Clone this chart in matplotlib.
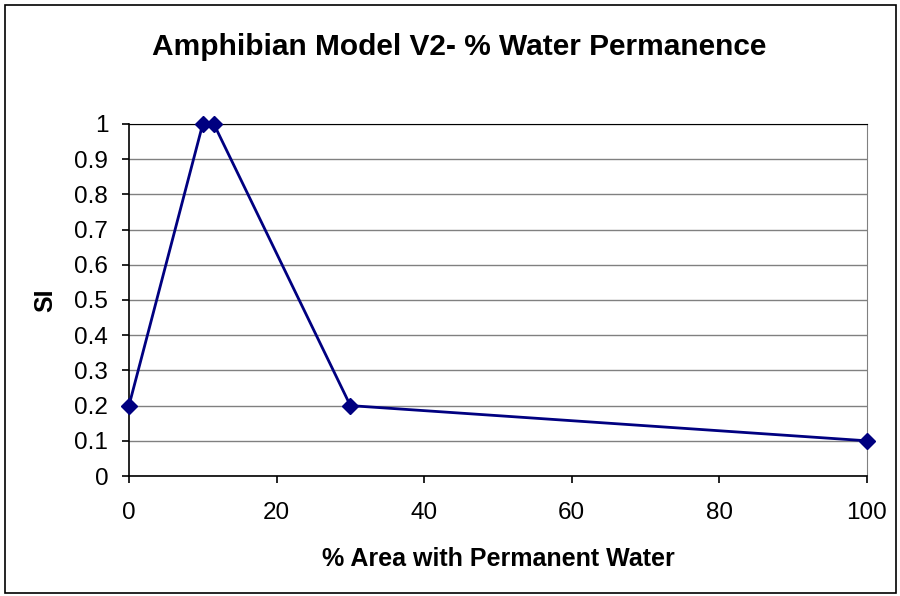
import matplotlib
matplotlib.use("Agg")
import matplotlib.pyplot as plt
from matplotlib.patches import Rectangle

# data
area_pct = [0, 10, 11.5, 30, 100]
si_values = [0.2, 1.0, 1.0, 0.2, 0.1]
x_ticks = [0, 20, 40, 60, 80, 100]
y_ticks = [0, 0.1, 0.2, 0.3, 0.4, 0.5, 0.6, 0.7, 0.8, 0.9, 1]
y_tick_labels = ['0', '0.1', '0.2', '0.3', '0.4', '0.5', '0.6', '0.7', '0.8', '0.9', '1']

plt.rcParams['font.family'] = ['Liberation Sans', 'DejaVu Sans']

fig = plt.figure(figsize=(9, 5.96), dpi=100)
ax = fig.add_axes([0.1433, 0.2013, 0.82, 0.5907])

# outer frame round the whole chart
fig.patches.append(Rectangle((0.006, 0.005), 0.99, 0.987, transform=fig.transFigure,
                             fill=False, edgecolor='black', linewidth=1.2))

ax.plot(area_pct, si_values, color='#000080', linewidth=2, marker='D',
        markersize=8, markerfacecolor='#000080', markeredgecolor='#000080',
        clip_on=False, zorder=3)

ax.set_xlim(0, 100)
ax.set_ylim(0, 1)
ax.set_xticks(x_ticks)
ax.set_yticks(y_ticks)
ax.set_yticklabels(y_tick_labels)
ax.yaxis.grid(True, color='#808080', linewidth=1)
ax.set_axisbelow(True)

for side in ['left', 'bottom']:
    ax.spines[side].set_color('black')
    ax.spines[side].set_linewidth(1.2)
ax.spines['right'].set_color('#808080')
ax.spines['top'].set_color('black')
ax.tick_params(axis='both', direction='out', length=5, width=1.2, labelsize=17.5)
ax.tick_params(axis='y', pad=10)
ax.tick_params(axis='x', pad=14)

ax.set_xlabel('% Area with Permanent Water', fontsize=18, fontweight='bold', labelpad=16)
ax.set_ylabel('SI', fontsize=18, fontweight='bold', labelpad=12)
fig.suptitle('Amphibian Model V2- % Water Permanence', fontsize=21.5, fontweight='bold',
             x=0.51, y=0.945)

fig.savefig('out.png', dpi=100)
